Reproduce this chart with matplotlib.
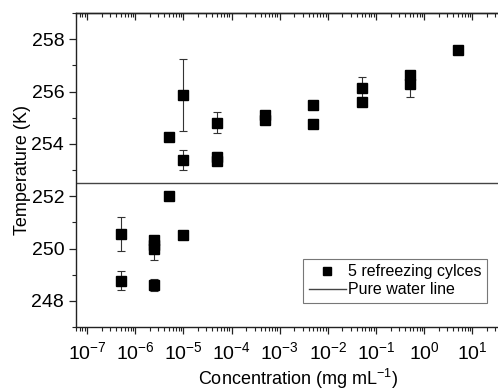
import matplotlib
matplotlib.use('Agg')
import numpy as np
import matplotlib.pyplot as plt
from matplotlib.ticker import FixedLocator, NullFormatter, MultipleLocator, LogFormatterSciNotation

plt.rcParams['font.family'] = ['Liberation Sans', 'DejaVu Sans']
plt.rcParams['mathtext.fontset'] = 'custom'
plt.rcParams['mathtext.rm'] = 'Liberation Sans'
plt.rcParams['mathtext.it'] = 'Liberation Sans'
plt.rcParams['axes.unicode_minus'] = False

# concentration (mg/mL), freezing temperature (K), error (K)
conc = [5e-7, 5e-7,
        2.5e-6, 2.5e-6, 2.5e-6, 2.5e-6,
        5e-6, 5e-6,
        1e-5, 1e-5, 1e-5,
        5e-5, 5e-5, 5e-5,
        5e-4, 5e-4,
        5e-3, 5e-3,
        5e-2, 5e-2,
        5e-1, 5e-1,
        5.0]
temp = [250.56, 248.77,
        250.32, 250.15, 249.98, 248.60,
        254.28, 252.02,
        255.87, 253.39, 250.50,
        254.81, 253.49, 253.36,
        255.11, 254.90,
        255.49, 254.75,
        256.15, 255.60,
        256.62, 256.29,
        257.60]
err = [0.64, 0.37,
       0.05, 0.05, 0.43, 0.22,
       0.05, 0.08,
       1.38, 0.38, 0.05,
       0.39, 0.2, 0.05,
       0.05, 0.05,
       0.05, 0.05,
       0.39, 0.05,
       0.05, 0.51,
       0.15]
pure_water = 252.5
decades = np.arange(-7, 2)

fig = plt.figure(figsize=(4.98, 3.91), dpi=100)
ax = fig.add_axes([76/498, 1-327/391, 444/498, 314/391])

ax.errorbar(conc, temp, yerr=err, fmt='none', ecolor='#333333',
            elinewidth=0.8, capsize=3, capthick=0.8, zorder=2)
ax.plot(conc, temp, 's', color='black', markersize=6.5, zorder=3,
        label='5 refreezing cylces')
ax.axhline(pure_water, color='#444444', lw=1.0, zorder=1, label='Pure water line')

ax.set_xscale('log')
ax.set_xlim(10**-7.23, 10**1.99)
ax.set_ylim(247, 259)
major_pos = [10.0**d for d in decades]
minor_pos = [m * 10.0**d for d in range(-8, 2) for m in range(2, 10)
             if 10**-7.23 < m * 10.0**d < 10**1.99]
ax.xaxis.set_major_locator(FixedLocator(major_pos))
ax.xaxis.set_major_formatter(LogFormatterSciNotation())
ax.xaxis.set_minor_locator(FixedLocator(minor_pos))
ax.xaxis.set_minor_formatter(NullFormatter())
ax.yaxis.set_major_locator(MultipleLocator(2))
ax.yaxis.set_minor_locator(MultipleLocator(1))

for s in ['left', 'bottom', 'top']:
    ax.spines[s].set_linewidth(1.0)
    ax.spines[s].set_color('#222222')
ax.spines['right'].set_visible(False)

ax.tick_params(axis='both', which='major', labelsize=14, length=5, width=0.9, color='#222222')
ax.tick_params(axis='both', which='minor', length=3, width=0.8, color='#222222')
ax.tick_params(axis='x', which='both', direction='out', top=False, pad=5)
ax.tick_params(axis='y', which='both', direction='out', right=False)

# top ticks point inward
top = ax.secondary_xaxis('top')
top.xaxis.set_major_locator(FixedLocator(major_pos))
top.xaxis.set_minor_locator(FixedLocator(minor_pos))
top.xaxis.set_major_formatter(NullFormatter())
top.xaxis.set_minor_formatter(NullFormatter())
top.tick_params(axis='x', which='both', direction='in', labeltop=False, color='#222222')
top.tick_params(axis='x', which='major', length=5, width=0.9)
top.tick_params(axis='x', which='minor', length=3, width=0.8)
top.spines['top'].set_linewidth(1.0)
top.spines['top'].set_color('#222222')

ax.set_xlabel('Concentration (mg mL$^{-1}$)', fontsize=13, labelpad=3)
ax.set_ylabel('Temperature (K)', fontsize=13, labelpad=0)

leg = ax.legend(loc='lower right', bbox_to_anchor=(487/498, 1-303/391),
                bbox_transform=fig.transFigure, borderaxespad=0,
                fontsize=11.5, frameon=True, fancybox=False, handlelength=2.3,
                handletextpad=0.15, borderpad=0.35, labelspacing=0.2,
                markerscale=0.9)
leg.get_frame().set_edgecolor('#555555')
leg.get_frame().set_linewidth(0.8)

fig.savefig('out.png', dpi=100)
